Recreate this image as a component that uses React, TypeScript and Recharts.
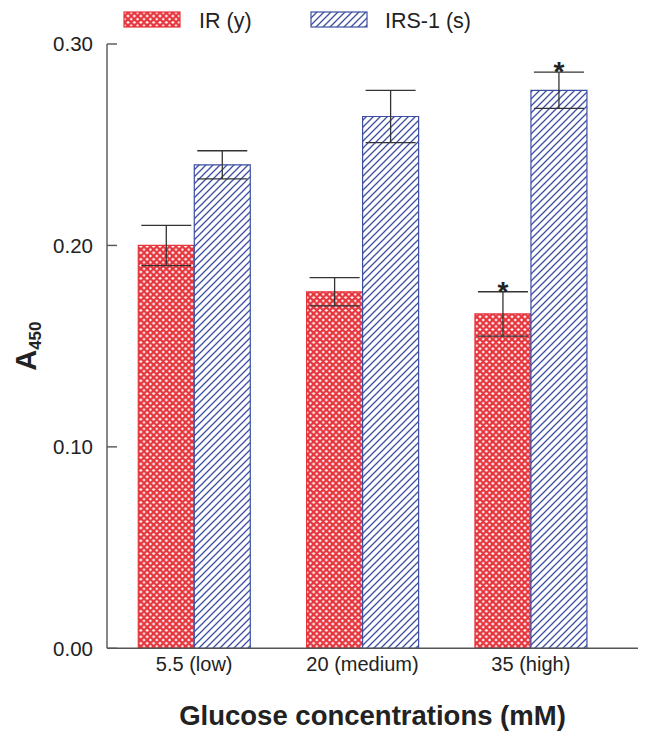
import { BarChart, Bar, XAxis, YAxis, ErrorBar, LabelList, Legend } from 'recharts';

const categories = ['5.5 (low)', '20 (medium)', '35 (high)'];
const irValues = [0.2, 0.177, 0.166];
const irErrors = [0.01, 0.007, 0.011];
const irsValues = [0.24, 0.264, 0.277];
const irsErrors = [0.007, 0.013, 0.009];
const irStars = ['', '', '*'];
const irsStars = ['', '', '*'];
const yTicks = [0, 0.1, 0.2, 0.3];

const RED = '#e6343c';
const BLUE = '#3d4fa3';
const FONT = '"Liberation Sans", Arial, sans-serif';

const data = categories.map((name, i) => ({
  name,
  ir: irValues[i],
  irErr: irErrors[i],
  irStar: irStars[i],
  irs: irsValues[i],
  irsErr: irsErrors[i],
  irsStar: irsStars[i],
}));

// asterisk sitting just above the error bar cap
const starLabel = (values: number[], errors: number[]) => (props: any) => {
  const { x, y, width, height, value, index } = props;
  if (!value) return null;
  const pxPerUnit = height / values[index];
  const top = y - errors[index] * pxPerUnit;
  return (
    <text x={x + width / 2} y={top + 9} textAnchor="middle" fontSize={28} fontWeight="bold" fontFamily={FONT} fill="#222">
      {value}
    </text>
  );
};

const LegendContent = () => (
  <svg width={651} height={40}>
    <rect x={124} y={12} width={56} height={15} fill="url(#crossRed)" stroke={RED} strokeWidth={1.2} />
    <text x={199} y={28} fontSize={21.5} fontFamily={FONT} fill="#222">IR (y)</text>
    <rect x={311} y={12} width={56} height={15} fill="url(#hatchBlue)" stroke={BLUE} strokeWidth={1.2} />
    <text x={385} y={28} fontSize={21.5} fontFamily={FONT} fill="#222">IRS-1 (s)</text>
  </svg>
);

const YLabel = (props: any) => {
  const { viewBox } = props;
  const cy = viewBox.y + viewBox.height / 2;
  return (
    <g transform={`translate(36, ${cy}) rotate(-90)`}>
      <text x={0} y={0} textAnchor="middle" fontSize={29} fontWeight="bold" fontFamily={FONT} fill="#222">
        A<tspan fontSize={17} dy={5}>450</tspan>
      </text>
    </g>
  );
};

export default function App() {
  return (
    <div style={{ position: 'absolute', left: 0, top: 0 }}>
      <BarChart
        width={651}
        height={744}
        data={data}
        margin={{ top: 44, right: 13, bottom: 0, left: 0 }}
        barCategoryGap="16.8%"
        barGap={0}
      >
        <defs>
          <pattern id="crossRed" patternUnits="userSpaceOnUse" width={6.4} height={6.4}>
            <rect width={6.4} height={6.4} fill="#fff" />
            <path d="M0,0 L6.4,6.4 M6.4,0 L0,6.4 M-1,5.4 L1,7.4 M5.4,-1 L7.4,1 M-1,1 L1,-1 M5.4,7.4 L7.4,5.4" stroke={RED} strokeWidth={2.4} />
          </pattern>
          <pattern id="hatchBlue" patternUnits="userSpaceOnUse" width={7} height={7}>
            <rect width={7} height={7} fill="#fff" />
            <path d="M0,7 L7,0 M-1,1 L1,-1 M6,8 L8,6" stroke={BLUE} strokeWidth={1.3} />
          </pattern>
        </defs>
        <Legend
          verticalAlign="middle"
          align="center"
          layout="horizontal"
          content={<LegendContent />}
          wrapperStyle={{ position: 'absolute', top: 0, left: 0, width: 651, height: 40 }}
        />
        <XAxis
          dataKey="name"
          height={95.7}
          padding={{ left: 3, right: 23 }}
          tickLine={false}
          tickSize={0}
          tickMargin={8}
          axisLine={{ stroke: '#555', strokeWidth: 1.4 }}
          tick={{ fill: '#222', fontSize: 20, fontFamily: FONT }}
          label={{
            value: 'Glucose concentrations (mM)',
            position: 'insideBottom',
            offset: 19,
            fontSize: 27.5,
            fontWeight: 'bold',
            fontFamily: FONT,
            fill: '#222',
          }}
        />
        <YAxis
          width={107}
          domain={[0, 0.3]}
          ticks={yTicks}
          tickFormatter={(v: number) => v.toFixed(2)}
          tickSize={-10}
          tickMargin={24}
          axisLine={{ stroke: '#555', strokeWidth: 1.4 }}
          tickLine={{ stroke: '#555', strokeWidth: 1.4 }}
          tick={{ fill: '#222', fontSize: 20.5, fontFamily: FONT }}
          label={<YLabel />}
        />
        <Bar dataKey="ir" fill="url(#crossRed)" stroke={RED} strokeWidth={1.2} isAnimationActive={false}>
          <ErrorBar dataKey="irErr" width={25} stroke="#333" strokeWidth={1.3} direction="y" />
          <LabelList dataKey="irStar" content={starLabel(irValues, irErrors)} />
        </Bar>
        <Bar dataKey="irs" fill="url(#hatchBlue)" stroke={BLUE} strokeWidth={1.2} isAnimationActive={false}>
          <ErrorBar dataKey="irsErr" width={25} stroke="#333" strokeWidth={1.3} direction="y" />
          <LabelList dataKey="irsStar" content={starLabel(irsValues, irsErrors)} />
        </Bar>
      </BarChart>
    </div>
  );
}
